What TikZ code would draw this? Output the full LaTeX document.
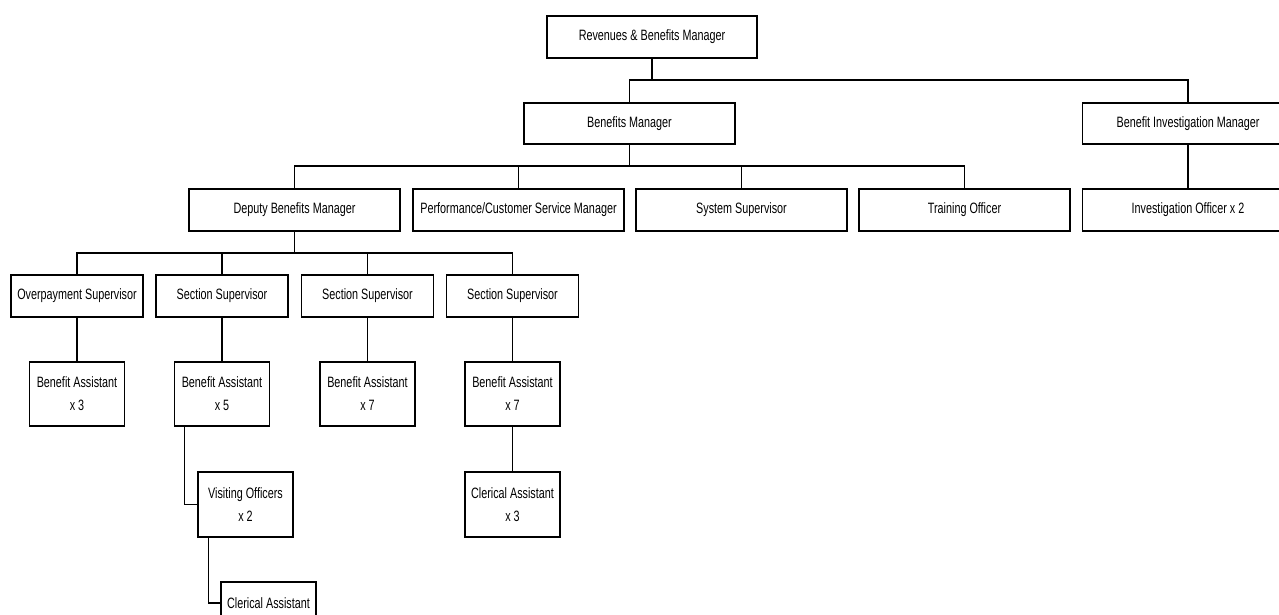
\documentclass[tikz,border=0pt]{standalone}
\usepackage{fontspec}
\setmainfont{Liberation Sans}[FakeStretch=0.72]
\usetikzlibrary{calc}
\begin{document}
\begin{tikzpicture}[x=1pt,y=-1pt,
  box/.style={draw, line width=1.5pt, rectangle, inner sep=0pt, minimum height=42pt,
    font=\fontsize{15}{23}\selectfont, align=center},
  wide/.style={box, minimum width=211pt},
  mid/.style={box, minimum width=132pt},
  small/.style={box, minimum width=95pt, minimum height=65pt},
  link/.style={line width=1.1pt}]
\fill[white] (0,0) rectangle (1279,615);
\useasboundingbox (0,0) rectangle (1279,615);

% level 1-2
\node[wide, minimum width=210pt] (rbm) at (652,37) {Revenues \& Benefits Manager};
\node[wide, minimum height=41pt] (bm) at (629.5,123.5) {Benefits Manager};
\node[wide, minimum height=41pt] (bim) at (1188,123.5) {Benefit Investigation Manager};
% level 3
\node[wide] (dbm) at (294.5,210) {Deputy Benefits Manager};
\node[wide] (pcsm) at (518.5,210) {Performance/Customer Service Manager};
\node[wide] (sys) at (741.5,210) {System Supervisor};
\node[wide] (tro) at (964.5,210) {Training Officer};
\node[wide] (io) at (1188,210) {Investigation Officer x 2};
% level 4
\node[mid] (ops) at (77,296) {Overpayment Supervisor};
\node[mid] (ss1) at (222,296) {Section Supervisor};
\node[mid] (ss2) at (367.5,296) {Section Supervisor};
\node[mid] (ss3) at (512.5,296) {Section Supervisor};
% level 5
\node[small, minimum height=64pt] (ba3) at (77,394) {Benefit Assistant\\x 3};
\node[small, minimum height=64pt] (ba5) at (222,394) {Benefit Assistant\\x 5};
\node[small, minimum height=64pt] (ba7a) at (367.5,394) {Benefit Assistant\\x 7};
\node[small, minimum height=64pt] (ba7b) at (512.5,394) {Benefit Assistant\\x 7};
% level 6
\node[small] (vo) at (245.5,504.5) {Visiting Officers\\x 2};
\node[small] (ca3) at (512.5,504.5) {Clerical Assistant\\x 3};
\node[small, minimum height=42pt] (ca) at (268.5,603) {Clerical Assistant};

% connectors
\coordinate (j1) at (0,80);
\coordinate (j2) at (0,166);
\coordinate (j3) at (0,253);
\draw[link] (rbm.south) -- (rbm.south |- j1);
\draw[link] (bm.north) -- (bm.north |- j1) -- (bim.north |- j1) -- (bim.north);
\draw[link] (bim.south) -- (io.north);
\draw[link] (bm.south) -- (bm.south |- j2);
\draw[link] (dbm.north) -- (dbm.north |- j2) -- (tro.north |- j2) -- (tro.north);
\draw[link] (pcsm.north) -- (pcsm.north |- j2);
\draw[link] (sys.north) -- (sys.north |- j2);
\draw[link] (dbm.south) -- (dbm.south |- j3);
\draw[link] (ops.north) -- (ops.north |- j3) -- (ss3.north |- j3) -- (ss3.north);
\draw[link] (ss1.north) -- (ss1.north |- j3);
\draw[link] (ss2.north) -- (ss2.north |- j3);
\draw[link] (ops.south) -- (ba3.north);
\draw[link] (ss1.south) -- (ba5.north);
\draw[link] (ss2.south) -- (ba7a.north);
\draw[link] (ss3.south) -- (ba7b.north);
\draw[link] (ba7b.south) -- (ca3.north);
\draw[link] ($(ba5.south west)+(11,0)$) |- (vo.west);
\draw[link] ($(vo.south west)+(11,0)$) |- (ca.west);
\end{tikzpicture}
\end{document}
